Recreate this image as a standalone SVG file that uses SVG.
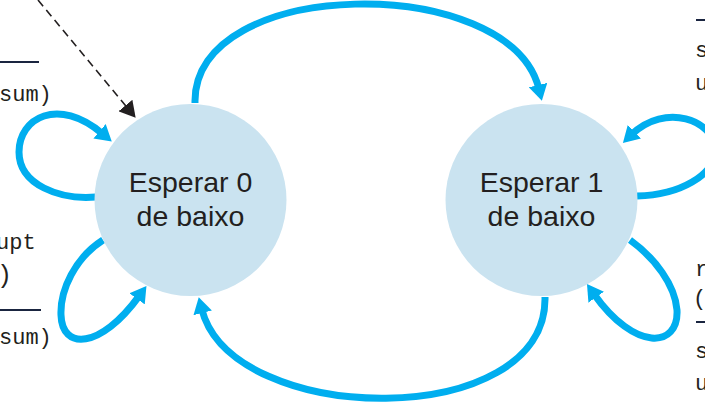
<svg xmlns="http://www.w3.org/2000/svg" width="705" height="404" viewBox="0 0 705 404">
  <style>
    .node { fill: #cae3f0; }
    .nlabel { font-family: "Liberation Sans", Arial, sans-serif; font-size: 28.5px; fill: #231f20; text-anchor: middle; }
    .edge { fill: none; stroke: #00aeef; stroke-width: 7; marker-end: url(#arrow); }
    .init { fill: none; stroke: #231f20; stroke-width: 1.6; stroke-dasharray: 8 5; marker-end: url(#arrowBlack); }
    .code { font-family: "Liberation Mono", "Courier New", monospace; font-size: 22px; fill: #231f20; }
    .rule { stroke: #1a2540; stroke-width: 2; }
  </style>
  <defs>
    <marker id="arrow" viewBox="0 0 16 19" markerWidth="16" markerHeight="19" refX="4" refY="9.5" orient="auto" markerUnits="userSpaceOnUse">
      <path d="M0,0 L16,9.5 L0,19 z" fill="#00aeef"/>
    </marker>
    <marker id="arrowBlack" viewBox="0 0 16 18" markerWidth="16" markerHeight="18" refX="4" refY="9" orient="auto" markerUnits="userSpaceOnUse">
      <path d="M0,0 L16,9 L0,18 z" fill="#231f20"/>
    </marker>
  </defs>

  <g id="connectors">
    <path id="e-init" class="init" d="M38,0 L128,108.6"/>
    <path id="e-0to1" class="edge" d="M195,103 C192,-25 510,-28 539,89"/>
    <path id="e-1to0" class="edge" d="M545,297 C548,432 232,428 201.7,309"/>
    <path id="e-0self-top" class="edge" d="M96,197 C60,200 19,185 19,152 C19,118 58,96 102.6,133.8"/>
    <path id="e-0self-bottom" class="edge" d="M103,240 C75,258 60,290 61,315 C62,350 100,350 139.4,295.6"/>
    <path id="e-1self-top" class="edge" d="M637,196 C680,195 715,175 715,150 C715,120 665,102 631.5,134.6"/>
    <path id="e-1self-bottom" class="edge" d="M630,240 C655,258 675,285 677,310 C679,348 635,352 593.9,293.9"/>
  </g>

  <g id="node-wait0">
    <circle class="node" cx="190.5" cy="200" r="96"/>
    <text class="nlabel" x="190.5" y="192">Esperar 0</text>
    <text class="nlabel" x="190.5" y="226">de baixo</text>
  </g>

  <g id="node-wait1">
    <circle class="node" cx="541.5" cy="200" r="96"/>
    <text class="nlabel" x="541.5" y="192">Esperar 1</text>
    <text class="nlabel" x="541.5" y="226">de baixo</text>
  </g>

  <g id="labels">
    <line class="rule" x1="0" y1="62" x2="39" y2="62"/>
    <text class="code" x="-1" y="101">sum)</text>
    <text class="code" x="-4" y="249">upt</text>
    <text class="code" x="-3" y="283" style="font-size:25px">)</text>
    <line class="rule" x1="0" y1="310" x2="41" y2="310"/>
    <text class="code" x="-1" y="344">sum)</text>

    <line class="rule" x1="696" y1="20" x2="705" y2="20"/>
    <text class="code" x="695" y="57">s</text>
    <text class="code" x="695" y="90">u</text>
    <text class="code" x="695" y="276">r</text>
    <text class="code" x="693" y="305">(</text>
    <line class="rule" x1="696" y1="322" x2="705" y2="322"/>
    <text class="code" x="695" y="358">s</text>
    <text class="code" x="695" y="390">u</text>
  </g>
</svg>
